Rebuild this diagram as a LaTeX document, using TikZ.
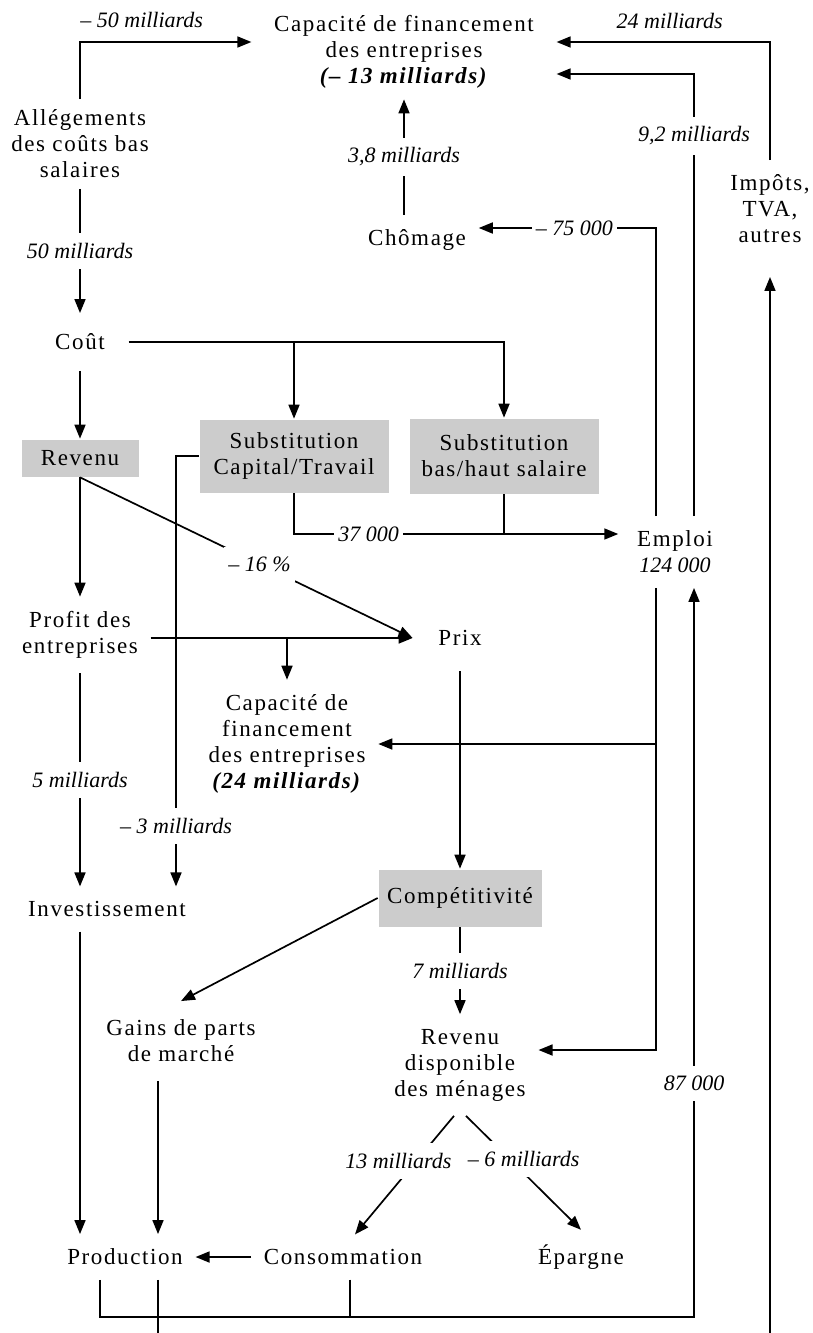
\documentclass[tikz,border=0pt]{standalone}
\usepackage{fontspec}
\setmainfont{Liberation Serif}[LetterSpace=7]
\newfontfamily\labfont{Liberation Serif}
\usetikzlibrary{positioning,arrows.meta}
\tikzstyle{txt}=[align=center, inner xsep=12pt, inner ysep=14pt]
\tikzstyle{box}=[rectangle, fill=gray!40, align=center, inner sep=0pt]
\tikzstyle{lab}=[font=\labfont\itshape\fontsize{22pt}{26pt}\selectfont, fill=white, inner xsep=4pt, inner ysep=10pt]
\tikzstyle{arr}=[-{Triangle[length=14pt,width=11pt]}]

\begin{document}
\begin{tikzpicture}[x=1pt,y=-1pt,on grid,line width=1.7pt,
    font=\fontsize{23pt}{26pt}\selectfont]

        \useasboundingbox (0,0) rectangle (812,1333);

        \node[txt,
            inner xsep=22pt,
            inner ysep=10pt] (capA) at (404,52)
            {Capacité de financement\\des entreprises\\\textbf{\textit{(– 13 milliards)}}};

        \node[txt,
            inner ysep=10pt,
            below left=92pt and 324pt of capA] (alleg)
            {Allégements\\des coûts bas\\salaires};

        \node[txt,
            inner xsep=23pt,
            inner ysep=20pt,
            below=198pt of alleg] (cout) {Coût};

        \node[box,
            minimum width=117pt,
            minimum height=37pt,
            below=116pt of cout] (revenu) {Revenu};

        \node[txt,
            below=177pt of revenu] (profit) {Profit des\\entreprises};

        \node[txt,
            below right=274pt and 27pt of profit] (invest) {Investissement};

        \node[txt,
            below right=348pt and 18pt of invest] (production) {Production};

        \node[txt,
            right=218pt of production] (conso) {Consommation};

        \node[txt,
            right=238pt of conso] (epargne) {Épargne};

        \node[box,
            minimum width=189pt,
            minimum height=73pt,
            above right=2pt and 214pt of revenu] (subcap)
            {Substitution\\Capital/Travail};

        \node[box,
            minimum width=189pt,
            minimum height=75pt,
            right=210pt of subcap] (subbas)
            {Substitution\\bas/haut salaire};

        \node[txt,
            below right=188pt and 13pt of capA] (chomage) {Chômage};

        \node[txt,
            below right=157pt and 366pt of capA] (impots) {Impôts,\\TVA,\\autres};

        \node[txt,
            inner xsep=18pt,
            below right=500pt and 271pt of capA] (emploi)
            {Emploi\\{\labfont\itshape\fontsize{22pt}{26pt}\selectfont 124 000}};

        \node[txt,
            inner sep=25pt,
            below right=3pt and 380pt of profit] (prix) {Prix};

        \node[txt,
            below left=288pt and 7pt of subcap] (capB)
            {Capacité de\\financement\\des entreprises\\\textbf{\textit{(24 milliards)}}};

        \node[box,
            minimum width=163pt,
            minimum height=57pt,
            below=260pt of prix] (compet) {Compétitivité};

        \node[txt,
            below=167pt of compet] (revdisp) {Revenu\\disponible\\des ménages};

        \node[txt,
            inner ysep=18pt,
            above left=24pt and 279pt of revdisp] (gains) {Gains de parts\\de marché};

        \coordinate (offA) at (158,1333);
        \coordinate (offB) at (770,1333);
        \coordinate (eS) at ([xshift=-19pt]emploi.south);
        \coordinate (e37) at ([yshift=18pt]emploi.west);

% Arrows
        \draw[arr] (alleg.north) |- node[lab,pos=0.68,above=3pt]{– 50 milliards}
            ([yshift=10pt]capA.west);
        \draw[arr] (impots.north) |- node[lab,pos=0.735,above=2pt]{24 milliards}
            ([yshift=10pt]capA.east);
        \draw[arr] ([xshift=19pt]emploi.north) |- node[lab,pos=0.43]{9,2 milliards}
            ([yshift=-22pt]capA.east);
        \draw[arr] ([xshift=-19pt]emploi.north) |- node[lab,pos=0.73]{– 75 000}
            ([yshift=12pt]chomage.east);
        \draw[arr] (chomage.north -| capA.south) -- node[lab]{3,8 milliards} (capA.south);
        \draw[arr] (offB) -- ([yshift=-19pt]impots.south);

        \draw[arr] (alleg) -- node[lab]{50 milliards} (cout);
        \draw[arr] (cout) -- (revenu);
        \draw[arr] (cout.east) -| (subbas.north);
        \draw[arr] (cout.east -| subcap.north) -- (subcap.north);

        \draw[arr] (revenu) -- (profit);
        \draw[arr] (revenu.south) -- node[lab,pos=0.54]{– 16 \%} (prix.west);
        \draw[arr] (profit.east |- prix.west) -- (prix.west);
        \draw[arr] (capB.north |- prix.west) -- (capB.north);

        \draw[arr] (subcap.south) |- node[lab,pos=0.615]{37 000} (e37);
        \draw (subbas.south) -- (subbas.south |- e37);

        \draw[arr] (eS) |- ([yshift=15pt]revdisp.east);
        \draw[arr] (eS |- capB.east) -- (capB.east);

        \draw[arr] (subcap.west) -| node[lab,pos=0.93]{– 3 milliards}
            ([xshift=69pt]invest.north);
        \draw[arr] (profit.south) -- node[lab]{5 milliards} (profit.south |- invest.north);
        \draw[arr] (invest.south -| profit.south) -- (production.north -| profit.south);

        \draw[arr] (prix) -- (compet);
        \draw[arr] (compet.west) -- (gains.north);
        \draw[arr] (compet) -- node[lab]{7 milliards} (revdisp);
        \draw[arr] ([xshift=-23pt]gains.south) -- ([xshift=33pt]production.north);

        \draw[arr] ([xshift=-6pt]revdisp.south) -- node[lab,pos=0.38,xshift=-18pt]{13 milliards}
            ([xshift=12pt]conso.north);
        \draw[arr] ([xshift=6pt]revdisp.south) -- node[lab,pos=0.38,xshift=14pt]{– 6 milliards}
            (epargne.north);
        \draw[arr] (conso) -- (production);

        \draw[arr] ([xshift=-25pt]production.south) -- ++(0,37)
            -| node[lab,pos=0.66]{87 000} ([xshift=19pt]emploi.south);
        \draw ([xshift=7pt]conso.south) -- ++(0,37);
        \draw ([xshift=33pt]production.south) -- (offA);

    \end{tikzpicture}
\end{document}
